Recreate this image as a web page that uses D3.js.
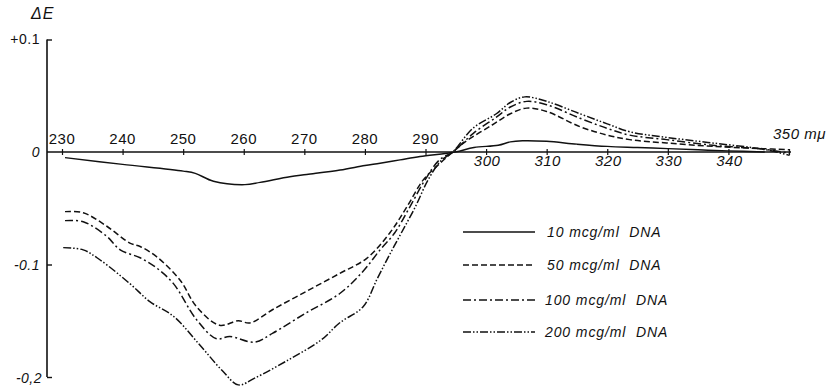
<!DOCTYPE html>
<html><head><meta charset="utf-8">
<script src="https://cdn.jsdelivr.net/npm/d3@7"></script>
<style>
body{margin:0;background:#fff;}
svg{display:block;}
text{font-family:"Liberation Sans","DejaVu Sans",sans-serif;fill:#111;}
</style></head>
<body><svg id="c" width="830" height="387"></svg>
<script>
// ---- data ----
const xTicks = [230,240,250,260,270,280,290,300,310,320,330,340,350];
const xTicksAbove = [230,240,250,260,270,280,290];
const xTicksBelow = [300,310,320,330,340];
const yTicks = [0.1,0,-0.1,-0.2];
const yTickLabels = ["+0.1","0","-0.1","-0,2"];
const seriesNames = ["10 mcg/ml  DNA","50 mcg/ml  DNA","100 mcg/ml  DNA","200 mcg/ml  DNA"];

const w10 = [230.5,240,250,252,255,260.2,262.7,267.6,270.4,275.9,280,282.5,285.8,289.1,294.9,298,302,304,306,310,315,320,325,330,335,340,346];
const v10 = [-0.005,-0.011,-0.017,-0.019,-0.026,-0.029,-0.027,-0.022,-0.020,-0.016,-0.012,-0.010,-0.007,-0.004,0,0.004,0.006,0.009,0.010,0.0095,0.007,0.005,0.004,0.003,0.002,0.001,0];

const w50 = [230.5,233.5,237.4,241.2,242.9,245.6,249.5,252.2,256,259.1,261,264.8,270.3,275.8,280.3,284.1,286.9,289.6,291.8,294.5,296.8,301,304,306.7,310,315.5,320,323.7,329.8,337.4,345.7,350];
const v50 = [-0.053,-0.054,-0.066,-0.081,-0.084,-0.093,-0.114,-0.1375,-0.154,-0.150,-0.152,-0.140,-0.124,-0.108,-0.0945,-0.072,-0.049,-0.025,-0.013,0,0.010,0.024,0.034,0.039,0.036,0.0225,0.015,0.011,0.008,0.005,0.003,0.002];

const w100 = [230.5,233.5,237.4,239.6,242.9,245.6,248.4,252.2,255.5,257.7,261.8,264.8,270.3,275.8,279.7,282.5,284.9,287.4,289.9,292.3,294.5,297.9,301.7,304,306.7,310,315.5,320,323.7,329.8,337.4,345.7,350.1];
const v100 = [-0.061,-0.062,-0.075,-0.087,-0.094,-0.103,-0.117,-0.149,-0.166,-0.164,-0.169,-0.161,-0.143,-0.126,-0.106,-0.087,-0.072,-0.049,-0.025,-0.007,0,0.0166,0.031,0.040,0.045,0.042,0.030,0.021,0.015,0.011,0.006,0.0025,-0.001];

const w200 = [230.2,233.5,236.3,241.2,244.5,248.4,252.5,256.4,259.1,261.8,267.3,272.8,275.8,279.7,282,284,286,288.3,290.4,292.5,294.5,297.8,301.7,304,306.4,310,315.5,320,323.7,329.8,337.4,345.7,350.1];
const v200 = [-0.085,-0.087,-0.096,-0.117,-0.133,-0.146,-0.170,-0.194,-0.207,-0.201,-0.185,-0.167,-0.152,-0.1375,-0.113,-0.092,-0.072,-0.049,-0.025,-0.008,0,0.021,0.034,0.044,0.049,0.045,0.034,0.025,0.018,0.013,0.008,0.0025,-0.003];

const dashes = [null,"6,3","8,3,2,3","8,2,1.5,2,1.5,2"];

// ---- scales ----
const svg = d3.select("#c");
const x = d3.scaleLinear().domain([230,350]).range([62,789]);
const y = d3.scaleLinear().domain([-0.2,0.1]).range([377,39.5]);
const axisX = 47;

// y axis
const gy = svg.append("g").attr("transform",`translate(${axisX},0)`);
gy.call(d3.axisRight(y).tickValues(yTicks).tickSize(5).tickFormat(""));
gy.select(".domain").remove();
gy.selectAll(".tick line").attr("stroke","#111").attr("stroke-width",1.4)
  .filter(d=>d===0).remove();
gy.append("line").attr("x1",0).attr("x2",0).attr("y1",y(0.1)).attr("y2",y(-0.2))
  .attr("stroke","#111").attr("stroke-width",1.6);
const ylab = svg.append("g");
yTicks.forEach((t,i)=>{
  ylab.append("text").attr("x", t===0?40:(t===-0.2?42:40)).attr("y", y(t)+ (t===-0.2?6:(t===0.1?4:5)))
    .attr("text-anchor","end").attr("font-size",14).attr("letter-spacing",0.5)
    .attr("font-style", t===0.1?"normal":"italic")
    .text(yTickLabels[i]);
});
svg.append("text").attr("x",31).attr("y",19).attr("font-size",16).attr("font-style","italic")
  .attr("letter-spacing",1).text("ΔE");

// x axis
const gx = svg.append("g").attr("transform",`translate(0,${y(0)})`);
gx.call(d3.axisBottom(x).tickValues(xTicks).tickSize(3).tickFormat(""));
gx.select(".domain").remove();
gx.selectAll(".tick line").attr("y1",-3).attr("y2",3).attr("stroke","#111").attr("stroke-width",1.2);
gx.append("line").attr("x1",axisX).attr("x2",x(350)+2).attr("y1",0).attr("y2",0)
  .attr("stroke","#111").attr("stroke-width",1.4);
gx.selectAll(".above").data(xTicksAbove).join("text")
  .attr("x",d=>x(d)).attr("y",-8).attr("text-anchor","middle").attr("font-size",15)
  .attr("letter-spacing",0.5).text(d=>d);
gx.selectAll(".below").data(xTicksBelow).join("text")
  .attr("x",d=>x(d)+1).attr("y",14).attr("text-anchor","middle").attr("font-size",15)
  .attr("font-style","italic").attr("letter-spacing",0.5).text(d=>d);
gx.append("text").attr("x",x(350)-16).attr("y",-13).attr("font-size",15)
  .attr("text-anchor","start").attr("font-style","italic").attr("letter-spacing",0.5).text("350 mμ");

// curves
const data = [[w10,v10],[w50,v50],[w100,v100],[w200,v200]];
const line = d3.line().x(d=>x(d[0])).y(d=>y(d[1])).curve(d3.curveCatmullRom.alpha(0.5));
data.forEach(([ws,vs],i)=>{
  const pts = ws.map((w,j)=>[w,vs[j]]);
  svg.append("path").datum(pts).attr("d",line).attr("fill","none")
    .attr("stroke","#111").attr("stroke-width",1.5)
    .attr("stroke-dasharray",dashes[i]);
});

// legend
const legY = [232,265,300,332];
const lg = svg.append("g");
seriesNames.forEach((s,i)=>{
  lg.append("line").attr("x1",463).attr("x2",535).attr("y1",legY[i]).attr("y2",legY[i])
    .attr("stroke","#111").attr("stroke-width",1.5).attr("stroke-dasharray",dashes[i]);
  lg.append("text").attr("x",i>=2?545:547).attr("y",legY[i]+5).attr("font-size",14)
    .attr("font-style","italic").attr("letter-spacing",0.9).attr("xml:space","preserve").text(s);
});
</script></body></html>
